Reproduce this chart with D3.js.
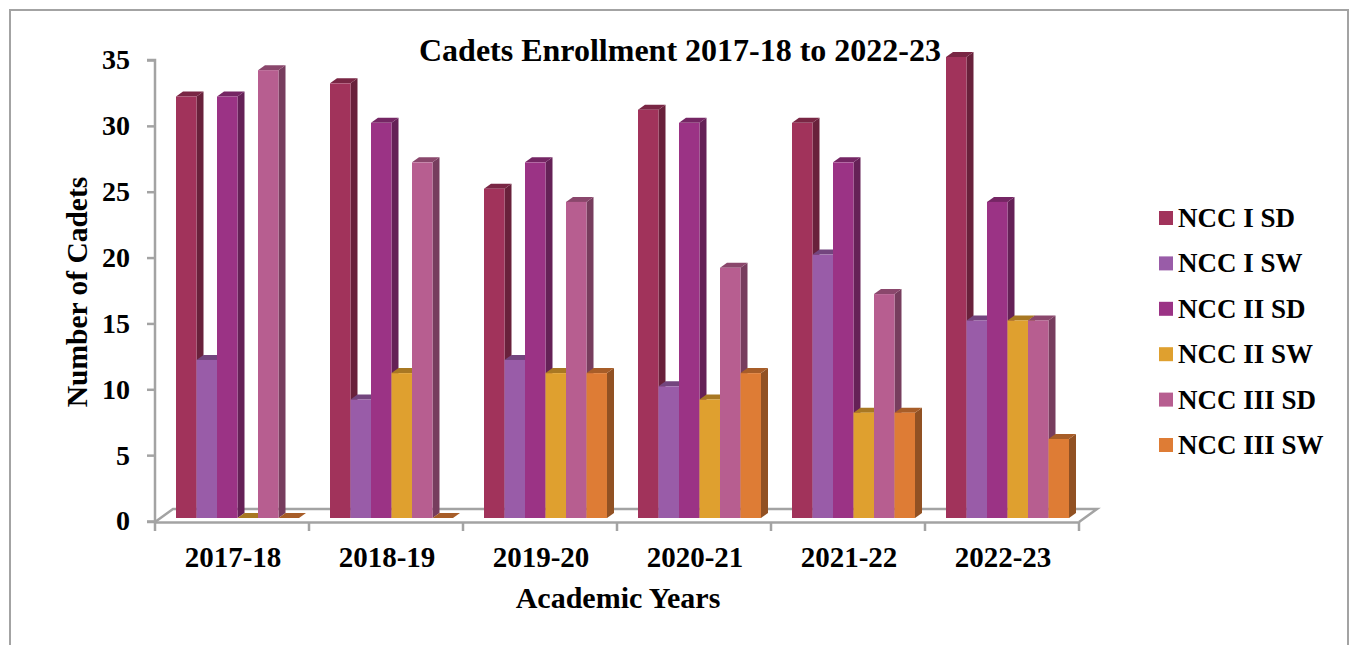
<!DOCTYPE html>
<html>
<head>
<meta charset="utf-8">
<script src="https://cdn.jsdelivr.net/npm/d3@7"></script>
<style>
  html, body { margin: 0; padding: 0; background: #fff; overflow: hidden; }
  text { font-family: "Liberation Serif", serif; font-weight: bold; fill: #000; }
  .axis path, .axis line { stroke: #a3a3a3; stroke-width: 2.5; }
</style>
</head>
<body>
<div id="chart"></div>
<script>
const years = ['2017-18', '2018-19', '2019-20', '2020-21', '2021-22', '2022-23'];
const seriesNames = ['NCC I SD', 'NCC I SW', 'NCC II SD', 'NCC II SW', 'NCC III SD', 'NCC III SW'];
const ncc1sd = [32, 33, 25, 31, 30, 35];
const ncc1sw = [12, 9, 12, 10, 20, 15];
const ncc2sd = [32, 30, 27, 30, 27, 24];
const ncc2sw = [0, 11, 11, 9, 8, 15];
const ncc3sd = [34, 27, 24, 19, 17, 15];
const ncc3sw = [0, 0, 11, 11, 8, 6];
const seriesValues = [ncc1sd, ncc1sw, ncc2sd, ncc2sw, ncc3sd, ncc3sw];
const colors = ['#a1335b', '#995ca8', '#9b3385', '#dfa02f', '#b75e90', '#de7c35'];
const yTicks = [0, 5, 10, 15, 20, 25, 30, 35];

const width = 1349, height = 645;
const depthX = 7, depthY = 5;   // bar depth
const floorX = 18, floorY = 13; // floor depth

const svg = d3.select('#chart').append('svg')
  .attr('width', width)
  .attr('height', height)
  .style('display', 'block');

// outer frame, bottom runs off the page
svg.append('rect')
  .attr('x', 10).attr('y', 10)
  .attr('width', 1338).attr('height', 660)
  .attr('fill', 'none')
  .attr('stroke', '#a3a3a3')
  .attr('stroke-width', 2);

const x0 = d3.scaleBand().domain(years).range([155, 1079]);
const x1 = d3.scaleBand().domain(seriesNames).range([21, 144]);
const y = d3.scaleLinear().domain([0, 35]).range([521, 60]);
const barBase = -3; // bars stand a little behind the axis line

// floor
svg.append('path')
  .attr('d', d3.line()([
    [x0.range()[0], y(0) + 1],
    [x0.range()[0] + floorX, y(0) - floorY + 1],
    [x0.range()[1] + floorX, y(0) - floorY + 1],
    [x0.range()[1], y(0) + 1]
  ]))
  .attr('fill', 'none')
  .attr('stroke', '#a3a3a3')
  .attr('stroke-width', 2.5);

const yAxis = svg.append('g')
  .attr('class', 'axis')
  .attr('transform', 'translate(155,0)')
  .call(d3.axisLeft(y).tickValues(yTicks).tickSize(8).tickPadding(17));
yAxis.select('.domain').attr('d', `M-8,${y(35)}H0V${y(0) + 1}H-8`);
yAxis.selectAll('text')
  .attr('font-size', 28)
  .style('font-family', '"Liberation Serif", serif')
  .style('font-weight', 'bold');

const xAxis = svg.append('g')
  .attr('class', 'axis')
  .attr('transform', `translate(0,${y(0) + 1})`)
  .call(d3.axisBottom(x0).tickSize(0).tickPadding(24));
xAxis.selectAll('text')
  .attr('font-size', 29)
  .attr('dx', 1)
  .style('font-family', '"Liberation Serif", serif')
  .style('font-weight', 'bold');
xAxis.selectAll('.sep')
  .data(years.concat('end'))
  .enter()
  .append('line')
    .attr('class', 'sep')
    .attr('x1', (d, i) => x0.range()[0] + i * x0.step())
    .attr('x2', (d, i) => x0.range()[0] + i * x0.step())
    .attr('y1', 0)
    .attr('y2', 9);

// 3d bars, left to right so each one covers the side of the one before
const groups = svg.selectAll('.year')
  .data(years)
  .enter()
  .append('g')
    .attr('class', 'year')
    .attr('transform', d => `translate(${x0(d)},${barBase})`);

const bars = groups.selectAll('.bar')
  .data((d, i) => seriesNames.map((s, j) => ({ s: s, v: seriesValues[j][i], c: colors[j] })))
  .enter()
  .append('g')
    .attr('class', 'bar');

const w = x1.bandwidth();
// side
bars.append('path')
  .attr('d', d => `M${x1(d.s) + w},${y(d.v)}l${depthX},${-depthY}V${y(0) - depthY}l${-depthX},${depthY}Z`)
  .attr('fill', d => d3.color(d.c).darker(1.2));
// top
bars.append('path')
  .attr('d', d => `M${x1(d.s)},${y(d.v)}l${depthX},${-depthY}h${w}l${-depthX},${depthY}Z`)
  .attr('fill', d => d3.color(d.c).darker(0.8));
// front
bars.append('rect')
  .attr('x', d => x1(d.s))
  .attr('y', d => y(d.v))
  .attr('width', w)
  .attr('height', d => y(0) - y(d.v))
  .attr('fill', d => d.c);

// titles
svg.append('text')
  .attr('x', 680).attr('y', 61)
  .attr('text-anchor', 'middle')
  .attr('font-size', 32)
  .text('Cadets Enrollment 2017-18 to 2022-23');

svg.append('text')
  .attr('transform', 'translate(87,292) rotate(-90)')
  .attr('text-anchor', 'middle')
  .attr('font-size', 29.5)
  .text('Number of Cadets');

svg.append('text')
  .attr('x', 618).attr('y', 608)
  .attr('text-anchor', 'middle')
  .attr('font-size', 30)
  .text('Academic Years');

// legend
const legendY = d3.scalePoint().domain(seriesNames).range([218, 445]);
const legend = svg.selectAll('.legend')
  .data(seriesNames)
  .enter()
  .append('g')
    .attr('class', 'legend')
    .attr('transform', d => `translate(1159,${legendY(d)})`);
legend.append('rect')
  .attr('y', -7)
  .attr('width', 14)
  .attr('height', 14)
  .attr('fill', (d, i) => colors[i]);
legend.append('text')
  .attr('x', 19)
  .attr('y', 9)
  .attr('font-size', 27)
  .text(d => d);
</script>
</body>
</html>
